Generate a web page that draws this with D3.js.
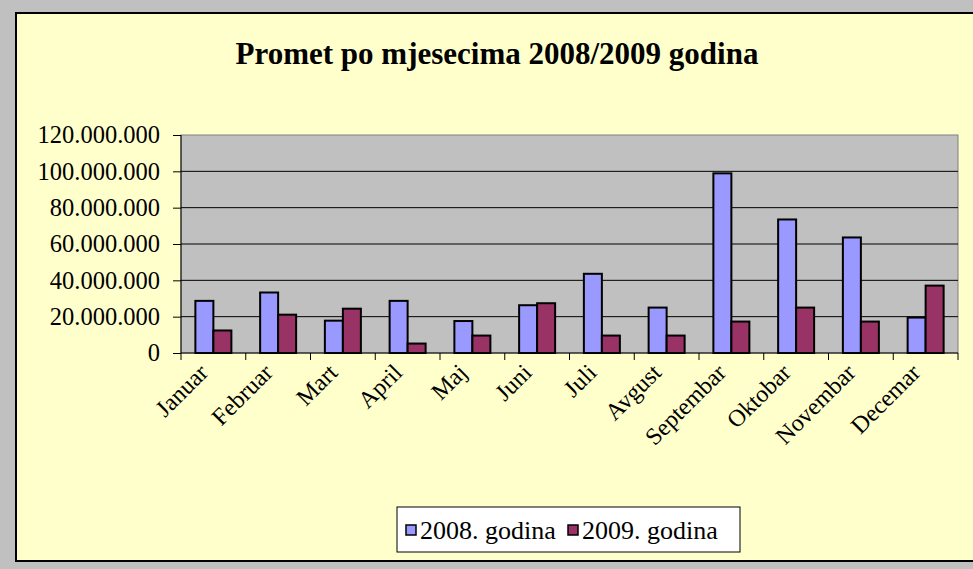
<!DOCTYPE html>
<html>
<head>
<meta charset="utf-8">
<script src="https://cdn.jsdelivr.net/npm/d3@7"></script>
<style>
  body { margin: 0; background: #c0c0c0; }
  svg { display: block; font-family: "Liberation Serif", "Times New Roman", serif; }
</style>
</head>
<body>
<div id="chart"></div>
<script>
var months = ["Januar", "Februar", "Mart", "April", "Maj", "Juni", "Juli",
              "Avgust", "Septembar", "Oktobar", "Novembar", "Decemar"];
var series = ["2008. godina", "2009. godina"];
var promet2008 = [28700000, 33300000, 17800000, 28700000, 17600000, 26300000,
                  43600000, 25000000, 98900000, 73500000, 63600000, 19500000];
var promet2009 = [12400000, 21100000, 24400000, 5200000, 9600000, 27400000,
                  9600000, 9600000, 17300000, 25000000, 17300000, 37100000];
var yTicks = [0, 20000000, 40000000, 60000000, 80000000, 100000000, 120000000];
var colors = ["#9999ff", "#993366"];

var width = 973, height = 569;
var plot = { left: 181, right: 958, top: 135, bottom: 353 };

var fmt = d3.formatLocale({ decimal: ",", thousands: ".", grouping: [3], currency: ["", ""] }).format(",");

var svg = d3.select("#chart").append("svg")
    .attr("width", width)
    .attr("height", height);

// chart area
svg.append("rect")
    .attr("x", 16).attr("y", 13)
    .attr("width", 980).attr("height", 548)
    .attr("fill", "#ffffcc")
    .attr("stroke", "#000")
    .attr("stroke-width", 2);

svg.append("text")
    .attr("x", 497).attr("y", 64)
    .attr("text-anchor", "middle")
    .attr("font-size", 31)
    .attr("font-weight", "bold")
    .text("Promet po mjesecima 2008/2009 godina");

var x = d3.scaleBand().domain(months).range([plot.left, plot.right]);
var groupW = x.bandwidth() * 36 / 64.75;
var xs = d3.scaleBand().domain(series).range([0, groupW]);
var y = d3.scaleLinear().domain([0, 120000000]).range([plot.bottom, plot.top]);

// plot background
svg.append("rect")
    .attr("x", plot.left).attr("y", plot.top)
    .attr("width", plot.right - plot.left).attr("height", plot.bottom - plot.top)
    .attr("fill", "#c0c0c0")
    .attr("stroke", "#808080");

// gridlines
svg.append("g")
  .selectAll("line")
  .data(yTicks.slice(1, -1))
  .join("line")
    .attr("x1", plot.left).attr("x2", plot.right)
    .attr("y1", function(d) { return y(d); })
    .attr("y2", function(d) { return y(d); })
    .attr("stroke", "#000");

// bars
var rows = months.map(function(m, i) {
    return { month: m, values: [promet2008[i], promet2009[i]] };
});

var groups = svg.append("g")
  .selectAll("g")
  .data(rows)
  .join("g")
    .attr("transform", function(d) {
        return "translate(" + (x(d.month) + (x.bandwidth() - groupW) / 2) + ",0)";
    });

groups.selectAll("rect")
  .data(function(d) { return d.values.map(function(v, j) { return { s: series[j], v: v, j: j }; }); })
  .join("rect")
    .attr("x", function(d) { return xs(d.s); })
    .attr("width", xs.bandwidth())
    .attr("y", function(d) { return y(d.v); })
    .attr("height", function(d) { return y(0) - y(d.v); })
    .attr("fill", function(d) { return colors[d.j]; })
    .attr("stroke", "#000")
    .attr("stroke-width", 2);

// y axis
var yAxis = svg.append("g")
    .attr("transform", "translate(" + plot.left + ",0)")
    .call(d3.axisLeft(y).tickValues(yTicks).tickFormat(fmt).tickSize(8).tickPadding(13))
    .attr("font-family", null)
    .attr("font-size", 24.5);
yAxis.select(".domain").attr("stroke", "#000").attr("d", "M0," + plot.top + "V" + plot.bottom);
yAxis.selectAll("text").attr("fill", "#000");
yAxis.selectAll("line").attr("stroke", "#000");

// x axis
var xAxis = svg.append("g")
    .attr("transform", "translate(0," + plot.bottom + ")");
xAxis.append("line")
    .attr("x1", plot.left).attr("x2", plot.right)
    .attr("stroke", "#000");
xAxis.selectAll("line.tick")
  .data(months.concat(["end"]))
  .join("line")
    .attr("class", "tick")
    .attr("x1", function(d) { return d === "end" ? plot.right : x(d); })
    .attr("x2", function(d) { return d === "end" ? plot.right : x(d); })
    .attr("y1", 0).attr("y2", 7)
    .attr("stroke", "#000");
xAxis.selectAll("text")
  .data(months)
  .join("text")
    .attr("transform", function(d) {
        return "translate(" + (x(d) + x.bandwidth() / 2 - 4) + ",21) rotate(-45)";
    })
    .attr("text-anchor", "end")
    .attr("font-size", 24)
    .text(function(d) { return d; });

// legend
var legend = svg.append("g").attr("transform", "translate(397,507)");
legend.append("rect")
    .attr("width", 343).attr("height", 45)
    .attr("fill", "#fff")
    .attr("stroke", "#000");
var item = legend.selectAll("g")
  .data(series)
  .join("g")
    .attr("transform", function(d, i) { return "translate(" + (9 + i * 162) + ",0)"; });
item.append("rect")
    .attr("y", 18).attr("width", 10).attr("height", 10)
    .attr("fill", function(d, i) { return colors[i]; })
    .attr("stroke", "#000")
    .attr("stroke-width", 1.5);
item.append("text")
    .attr("x", 14).attr("y", 32)
    .attr("font-size", 26)
    .text(function(d) { return d; });
</script>
</body>
</html>
